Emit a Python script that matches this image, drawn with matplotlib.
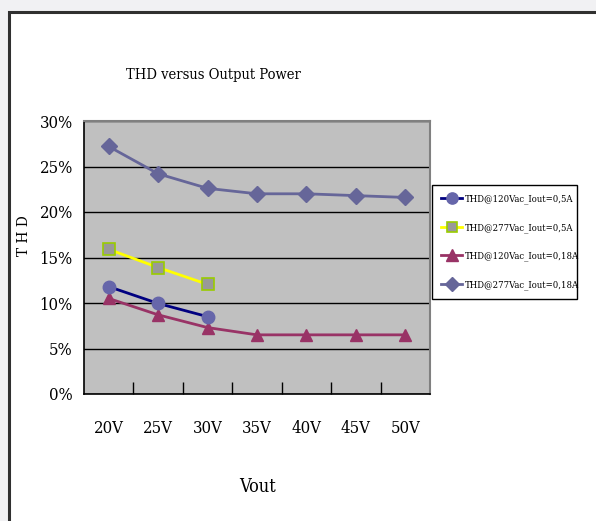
import matplotlib
matplotlib.use("Agg")
import matplotlib.pyplot as plt
from matplotlib.patches import Rectangle
from matplotlib.ticker import FixedLocator, NullFormatter

vout = ['20V', '25V', '30V', '35V', '40V', '45V', '50V']

thd_120_05 = [11.8, 9.95, 8.5]
thd_277_05 = [15.9, 13.9, 12.05]
thd_120_018 = [10.5, 8.7, 7.3, 6.5, 6.5, 6.5, 6.5]
thd_277_018 = [27.2, 24.2, 22.6, 22.0, 22.0, 21.8, 21.6]

y_ticks = [0, 5, 10, 15, 20, 25, 30]

plt.rcParams['font.family'] = 'DejaVu Serif'
plt.rcParams['font.stretch'] = 'condensed'

fig = plt.figure(figsize=(5.96, 5.21), dpi=100)
fig.patch.set_facecolor('#f1f1f3')

# white chart frame, running off the right and bottom edges
frame = Rectangle((9 / 596, -0.1), 1.2, 1 - 11.5 / 521 + 0.1,
                  transform=fig.transFigure, facecolor='white',
                  edgecolor='#303030', linewidth=2.2, zorder=-5)
fig.patches.append(frame)

ax = fig.add_axes([84 / 596, 1 - 394 / 521, (430 - 84) / 596, (394 - 121) / 521])
ax.set_facecolor('#c0c0c0')

x = list(range(len(vout)))

ax.plot(x[:3], thd_120_05, color='#000080', lw=2.0, marker='o', ms=9,
        mfc='#6666aa', mec='#6666aa', label='THD@120Vac_Iout=0,5A', zorder=4)
ax.plot(x[:3], thd_277_05, color='#ffff00', lw=2.0, marker='s', ms=8,
        mfc='#999999', mec='#99cc00', mew=1.2, label='THD@277Vac_Iout=0,5A', zorder=4)
ax.plot(x, thd_120_018, color='#993366', lw=2.0, marker='^', ms=9,
        mfc='#993366', mec='#993366', label='THD@120Vac_Iout=0,18A', zorder=3)
ax.plot(x, thd_277_018, color='#666699', lw=2.0, marker='D', ms=8,
        mfc='#666699', mec='#666699', label='THD@277Vac_Iout=0,18A', zorder=3)

ax.set_xlim(-0.5, len(vout) - 0.5)
ax.set_ylim(0, 30)
ax.set_yticks(y_ticks)
ax.set_yticklabels(['%d%%' % v for v in y_ticks])
ax.yaxis.grid(True, color='black', lw=1)
ax.set_axisbelow(True)
ax.tick_params(axis='y', length=0, pad=8)

ax.set_xticks(x)
ax.set_xticklabels(vout)
ax.tick_params(axis='x', which='major', length=0, pad=19)
ax.xaxis.set_minor_locator(FixedLocator([i + 0.5 for i in range(len(vout) - 1)]))
ax.xaxis.set_minor_formatter(NullFormatter())
ax.tick_params(axis='x', which='minor', direction='in', length=9, width=1, color='black')

for lbl in ax.get_xticklabels() + ax.get_yticklabels():
    lbl.set_fontfamily('DejaVu Serif')
    lbl.set_fontstretch('condensed')
    lbl.set_fontsize(12)

for side in ['top', 'right']:
    ax.spines[side].set_color('#808080')
    ax.spines[side].set_linewidth(1.5)
for side in ['left', 'bottom']:
    ax.spines[side].set_color('black')
    ax.spines[side].set_linewidth(1.2)

fig.text(213 / 596, 1 - 75 / 521, 'THD versus Output Power', ha='center', va='center',
         fontsize=10.5)
fig.text(258 / 596, 1 - 487 / 521, 'Vout', ha='center', va='center', fontsize=13)
fig.text(24 / 596, 1 - 236 / 521, 'T H D', ha='center', va='center', rotation=90,
         fontsize=11)

leg = ax.legend(loc='upper left', bbox_to_anchor=(432 / 596, 1 - 327 / 521,
                                                  (577 - 432) / 596, (327 - 185) / 521),
                bbox_transform=fig.transFigure, mode='expand', frameon=True,
                fancybox=False, edgecolor='black', framealpha=1, facecolor='white',
                fontsize=6.8, handlelength=2.2, handletextpad=0.3, labelspacing=2.0,
                borderpad=1.0, borderaxespad=0, markerscale=0.9)
leg.get_frame().set_linewidth(1.0)

fig.savefig('out.png', dpi=100, facecolor=fig.get_facecolor())
